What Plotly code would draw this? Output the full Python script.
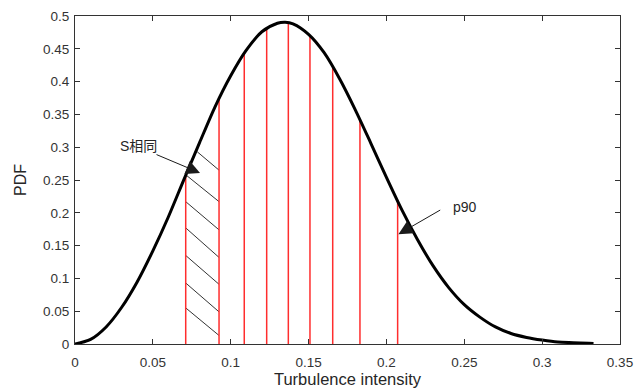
import plotly.graph_objects as go

# ---- data ----
curve_x = [0, 0.01, 0.02, 0.03, 0.04, 0.05, 0.06, 0.07, 0.08, 0.09, 0.10, 0.11, 0.12, 0.13, 0.135,
           0.14, 0.15, 0.16, 0.17, 0.18, 0.19, 0.20, 0.21, 0.22, 0.23, 0.24, 0.25, 0.26, 0.27,
           0.28, 0.29, 0.30, 0.31, 0.32, 0.33, 0.333]
curve_y = [0, 0.007, 0.026, 0.056, 0.095, 0.142, 0.194, 0.251, 0.307, 0.362, 0.409, 0.448, 0.476, 0.489, 0.4905,
           0.488, 0.472, 0.444, 0.404, 0.357, 0.306, 0.254, 0.204, 0.159, 0.119, 0.086, 0.060, 0.041, 0.026,
           0.016, 0.010, 0.006, 0.003, 0.002, 0.001, 0.0007]

# decile lines (p10 ... p90)
decile_x = [0.0711, 0.0925, 0.1087, 0.1231, 0.137, 0.1509, 0.1655, 0.183, 0.2072]
decile_top = [0.257, 0.374, 0.443, 0.480, 0.489, 0.470, 0.422, 0.342, 0.218]

# hatch segments in the first band
hatch_x0 = [0.0785, 0.0711, 0.0711, 0.0711, 0.0711, 0.0711, 0.0711]
hatch_y0 = [0.293, 0.258, 0.217, 0.177, 0.135, 0.093, 0.055]
hatch_x1 = [0.0925, 0.0925, 0.0925, 0.0925, 0.0925, 0.0925, 0.0925]
hatch_y1 = [0.265, 0.217, 0.174, 0.132, 0.091, 0.049, 0.013]

x_ticks = [0, 0.05, 0.1, 0.15, 0.2, 0.25, 0.3, 0.35]
x_tick_text = ["0", "0.05", "0.1", "0.15", "0.2", "0.25", "0.3", "0.35"]
y_ticks = [0, 0.05, 0.1, 0.15, 0.2, 0.25, 0.3, 0.35, 0.4, 0.45, 0.5]
y_tick_text = ["0", "0.05", "0.1", "0.15", "0.2", "0.25", "0.3", "0.35", "0.4", "0.45", "0.5"]

# annotation anchors
s_label = ("S相同", 0.0408, 0.302)
s_arrow = (0.0514, 0.2897, 0.0803, 0.2608)   # tail x, tail y, tip x, tip y
p90_label = ("p90", 0.2505, 0.2094)
p90_arrow = (0.2355, 0.2055, 0.2077, 0.1674)

# ---- figure ----
fig = go.Figure()

# hatch
hx, hy = [], []
for a, b, c, d in zip(hatch_x0, hatch_y0, hatch_x1, hatch_y1):
    hx += [a, c, None]
    hy += [b, d, None]
fig.add_trace(go.Scatter(x=hx, y=hy, mode="lines",
                         line=dict(color="#333333", width=1), hoverinfo="skip"))

# red decile lines
rx, ry = [], []
for xv, top in zip(decile_x, decile_top):
    rx += [xv, xv, None]
    ry += [0, top, None]
fig.add_trace(go.Scatter(x=rx, y=ry, mode="lines",
                         line=dict(color="rgb(255,45,45)", width=1.5), hoverinfo="skip"))

# pdf curve
fig.add_trace(go.Scatter(x=curve_x, y=curve_y, mode="lines",
                         line=dict(color="black", width=3, shape="spline", smoothing=0.8)))

font_main = "Liberation Sans, Arial, sans-serif"

for label, arrow in ((s_label, s_arrow), (p90_label, p90_arrow)):
    fig.add_annotation(x=label[1], y=label[2], text=label[0], showarrow=False,
                       xanchor="center", yanchor="middle",
                       font=dict(family="Liberation Sans, Noto Sans CJK SC, sans-serif",
                                 size=14, color="#262626"))
    fig.add_annotation(x=arrow[2], y=arrow[3], ax=arrow[0], ay=arrow[1],
                       xref="x", yref="y", axref="x", ayref="y", text="",
                       showarrow=True, arrowhead=2, arrowsize=2.8, arrowwidth=1,
                       arrowcolor="#1a1a1a", standoff=0, startstandoff=0)

axis_common = dict(showline=True, linecolor="#333333", linewidth=1, mirror="ticks",
                   ticks="inside", ticklen=5, tickwidth=1, tickcolor="#333333",
                   showgrid=False, zeroline=False, automargin=False,
                   tickfont=dict(family=font_main, size=13.5, color="#333333"))

fig.update_layout(
    width=637, height=390,
    margin=dict(l=75, r=17, t=16, b=46),
    paper_bgcolor="white", plot_bgcolor="white",
    showlegend=False,
    xaxis=dict(range=[0, 0.35], tickvals=x_ticks, ticktext=x_tick_text,
               ticklabelstandoff=6,
               title=dict(text="Turbulence intensity", standoff=3,
                          font=dict(family=font_main, size=16.5, color="#262626")),
               **axis_common),
    yaxis=dict(range=[0, 0.5], tickvals=y_ticks, ticktext=y_tick_text,
               ticklabelstandoff=2,
               title=dict(text="PDF", standoff=12,
                          font=dict(family=font_main, size=16, color="#262626")),
               **axis_common),
)

fig.write_html("out.html", config={"displayModeBar": False},
               post_script="document.body.style.margin='0';document.body.style.overflow='hidden';")
